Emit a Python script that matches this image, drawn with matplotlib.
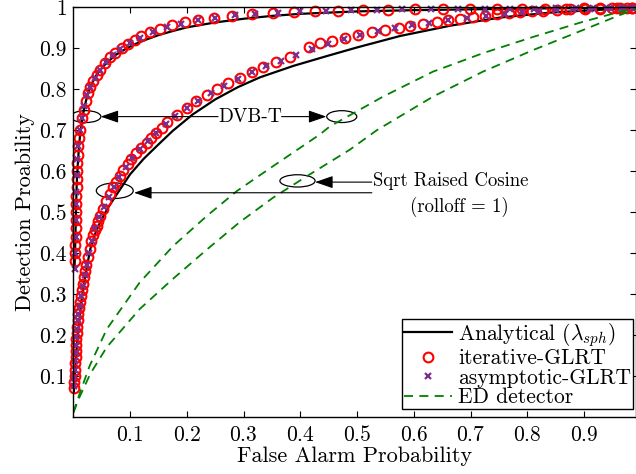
import numpy as np
import matplotlib
matplotlib.use("Agg")
import matplotlib.pyplot as plt
from matplotlib.patches import Ellipse

plt.rcParams["font.family"] = ["cmr10", "DejaVu Serif"]
plt.rcParams["mathtext.fontset"] = "cm"
plt.rcParams["axes.formatter.use_mathtext"] = True

# ---- Analytical (black lines) ----
dvb_ana_x = [0.002, 0.003, 0.004, 0.005, 0.006, 0.008, 0.010, 0.012, 0.015, 0.018, 0.022,
             0.026, 0.030, 0.035, 0.041, 0.047, 0.055, 0.065, 0.075, 0.088, 0.100, 0.115,
             0.130, 0.150, 0.175, 0.200, 0.250, 0.300, 0.350, 0.400, 0.450, 0.500, 0.600,
             0.700, 0.800, 0.900, 0.990]
dvb_ana_y = [0.36, 0.40, 0.46, 0.52, 0.57, 0.62, 0.66, 0.69, 0.72, 0.745, 0.77,
             0.79, 0.805, 0.82, 0.835, 0.846, 0.859, 0.872, 0.884, 0.895, 0.904, 0.914,
             0.922, 0.932, 0.942, 0.951, 0.963, 0.972, 0.979, 0.984, 0.987, 0.990, 0.993,
             0.995, 0.997, 0.998, 0.999]

src_ana_x = [0.001, 0.002, 0.004, 0.006, 0.008, 0.011, 0.014, 0.018, 0.023, 0.030,
             0.038, 0.047, 0.060, 0.076, 0.100, 0.124, 0.150, 0.175, 0.210, 0.250,
             0.290, 0.329, 0.388, 0.447, 0.500, 0.576, 0.664, 0.752, 0.840, 0.928, 0.990]
src_ana_y = [0.06, 0.09, 0.13, 0.17, 0.20, 0.24, 0.28, 0.32, 0.36, 0.41,
             0.445, 0.474, 0.508, 0.542, 0.592, 0.630, 0.665, 0.698, 0.738, 0.775,
             0.805, 0.829, 0.857, 0.881, 0.902, 0.930, 0.955, 0.975, 0.987, 0.994, 0.997]

# ---- iterative-GLRT (red circles) ----
dvb_it_x = [0.003, 0.003, 0.003, 0.004, 0.004, 0.004, 0.005, 0.005, 0.005, 0.006,
            0.006, 0.007, 0.007, 0.008, 0.009, 0.010, 0.012, 0.015, 0.018, 0.022,
            0.026, 0.030, 0.035, 0.041, 0.047, 0.056, 0.065, 0.073, 0.085, 0.097,
            0.109, 0.120, 0.135, 0.153, 0.173, 0.197, 0.220, 0.247, 0.279, 0.314,
            0.352, 0.388, 0.426, 0.467, 0.511, 0.555, 0.602, 0.652, 0.699, 0.746,
            0.790, 0.831, 0.869, 0.899, 0.928, 0.958, 0.985]
dvb_it_y = [0.38, 0.40, 0.42, 0.44, 0.46, 0.48, 0.50, 0.52, 0.54, 0.56,
            0.58, 0.60, 0.62, 0.64, 0.66, 0.68, 0.70, 0.73, 0.75, 0.77,
            0.79, 0.805, 0.82, 0.835, 0.848, 0.864, 0.878, 0.889, 0.901, 0.911,
            0.921, 0.930, 0.939, 0.948, 0.956, 0.964, 0.969, 0.975, 0.979, 0.983,
            0.986, 0.988, 0.990, 0.992, 0.993, 0.994, 0.995, 0.995, 0.996, 0.996,
            0.997, 0.997, 0.997, 0.998, 0.998, 0.998, 0.998]

src_it_x = [0.002, 0.002, 0.003, 0.003, 0.003, 0.004, 0.004, 0.005, 0.005, 0.006,
            0.007, 0.008, 0.009, 0.010, 0.011, 0.013, 0.015, 0.017, 0.019, 0.021,
            0.023, 0.026, 0.029, 0.032, 0.035, 0.038, 0.041, 0.044, 0.047, 0.052,
            0.058, 0.064, 0.070, 0.076, 0.082, 0.088, 0.096, 0.102, 0.111, 0.120,
            0.129, 0.137, 0.146, 0.156, 0.165, 0.182, 0.200, 0.217, 0.235, 0.253,
            0.273, 0.294, 0.314, 0.335, 0.358, 0.382, 0.415, 0.435, 0.455, 0.479,
            0.502, 0.526, 0.549, 0.573, 0.593, 0.617, 0.640, 0.661, 0.681, 0.705,
            0.725, 0.746, 0.767, 0.787, 0.808, 0.828, 0.852, 0.875, 0.902, 0.928,
            0.949, 0.963, 0.975, 0.984]
src_it_y = [0.07, 0.085, 0.10, 0.115, 0.13, 0.145, 0.16, 0.175, 0.19, 0.205,
            0.22, 0.235, 0.25, 0.265, 0.28, 0.295, 0.31, 0.325, 0.34, 0.355,
            0.37, 0.39, 0.41, 0.428, 0.443, 0.456, 0.467, 0.479, 0.49, 0.508,
            0.527, 0.544, 0.56, 0.574, 0.589, 0.602, 0.618, 0.630, 0.643, 0.656,
            0.668, 0.680, 0.692, 0.705, 0.720, 0.737, 0.754, 0.770, 0.785, 0.800,
            0.815, 0.828, 0.841, 0.853, 0.866, 0.879, 0.902, 0.912, 0.918, 0.925,
            0.932, 0.940, 0.945, 0.950, 0.955, 0.960, 0.965, 0.968, 0.972, 0.976,
            0.979, 0.983, 0.986, 0.988, 0.990, 0.992, 0.994, 0.995, 0.996, 0.997,
            0.998, 0.998, 0.999, 0.999]

# ---- asymptotic-GLRT (purple crosses) ----
dvb_as_x = [0.003, 0.003, 0.004, 0.004, 0.005, 0.005, 0.006, 0.007, 0.008, 0.011,
            0.015, 0.019, 0.024, 0.030, 0.038, 0.047, 0.058, 0.070, 0.083, 0.100,
            0.118, 0.140, 0.165, 0.190, 0.220, 0.250, 0.285, 0.320, 0.360, 0.400,
            0.445, 0.490, 0.535, 0.580, 0.630, 0.678, 0.725, 0.770, 0.812, 0.850,
            0.885, 0.915, 0.945, 0.970, 0.990]
dvb_as_y = [0.36, 0.40, 0.44, 0.48, 0.52, 0.55, 0.59, 0.63, 0.66, 0.70,
            0.73, 0.76, 0.785, 0.805, 0.828, 0.846, 0.866, 0.883, 0.898, 0.912,
            0.926, 0.939, 0.951, 0.960, 0.968, 0.975, 0.980, 0.984, 0.987, 0.990,
            0.992, 0.993, 0.994, 0.995, 0.996, 0.996, 0.997, 0.997, 0.997, 0.998,
            0.998, 0.998, 0.998, 0.998, 0.999]

src_as_x = [0.002, 0.002, 0.003, 0.003, 0.004, 0.005, 0.005, 0.006, 0.008, 0.009,
            0.011, 0.014, 0.017, 0.020, 0.024, 0.028, 0.033, 0.039, 0.046, 0.054,
            0.062, 0.071, 0.081, 0.092, 0.104, 0.117, 0.131, 0.146, 0.163, 0.180,
            0.200, 0.220, 0.242, 0.265, 0.290, 0.315, 0.340, 0.366, 0.393, 0.420,
            0.448, 0.477, 0.506, 0.536, 0.566, 0.596, 0.627, 0.660, 0.693, 0.727,
            0.760, 0.790, 0.820, 0.850, 0.880, 0.910, 0.940, 0.965, 0.985]
src_as_y = [0.075, 0.095, 0.115, 0.135, 0.155, 0.175, 0.195, 0.215, 0.235, 0.25,
            0.27, 0.295, 0.32, 0.345, 0.37, 0.40, 0.43, 0.46, 0.487, 0.513,
            0.537, 0.56, 0.585, 0.609, 0.632, 0.653, 0.673, 0.692, 0.715, 0.735,
            0.754, 0.772, 0.790, 0.808, 0.826, 0.842, 0.856, 0.870, 0.884, 0.898,
            0.910, 0.922, 0.933, 0.942, 0.949, 0.956, 0.962, 0.968, 0.974, 0.979,
            0.984, 0.988, 0.991, 0.994, 0.995, 0.997, 0.998, 0.998, 0.999]

# ---- ED detector (green dashed) ----
ed1_x = [0.0, 0.012, 0.029, 0.059, 0.117, 0.176, 0.235, 0.288, 0.352, 0.434,
         0.452, 0.546, 0.634, 0.722, 0.811, 0.899, 0.963, 0.990]
ed1_y = [0.01, 0.06, 0.125, 0.214, 0.328, 0.417, 0.49, 0.551, 0.612, 0.689,
         0.709, 0.782, 0.843, 0.888, 0.928, 0.965, 0.989, 0.997]
ed2_x = [0.0, 0.010, 0.030, 0.059, 0.117, 0.175, 0.235, 0.293, 0.352, 0.411,
         0.487, 0.535, 0.634, 0.722, 0.811, 0.899, 0.963, 0.990]
ed2_y = [0.01, 0.045, 0.105, 0.17, 0.263, 0.336, 0.408, 0.475, 0.535, 0.587,
         0.652, 0.700, 0.782, 0.843, 0.896, 0.945, 0.981, 0.995]

xticks = [0.1, 0.2, 0.3, 0.4, 0.5, 0.6, 0.7, 0.8, 0.9]
yticks = [0.1, 0.2, 0.3, 0.4, 0.5, 0.6, 0.7, 0.8, 0.9, 1.0]
ytick_labels = ["0.1", "0.2", "0.3", "0.4", "0.5", "0.6", "0.7", "0.8", "0.9", "1"]

purple = "#7E2F8E"
green = "#008000"

fig = plt.figure(figsize=(6.36, 4.74), dpi=100)
ax = fig.add_axes([0.1153, 0.1209, 0.8847, 0.8637])

ax.plot(dvb_ana_x, dvb_ana_y, color="k", lw=1.6, label=r"Analytical ($\lambda_{sph}$)")
ax.plot(src_ana_x, src_ana_y, color="k", lw=1.6, label="_nolegend_")
ax.plot(dvb_it_x, dvb_it_y, "o", mfc="none", mec="red", ms=7, mew=1.5,
        clip_on=False, label="iterative-GLRT")
ax.plot(src_it_x, src_it_y, "o", mfc="none", mec="red", ms=7, mew=1.5,
        clip_on=False, label="_nolegend_")
ax.plot(dvb_as_x, dvb_as_y, "x", color=purple, ms=4.5, mew=1.6,
        clip_on=False, label="asymptotic-GLRT")
ax.plot(src_as_x, src_as_y, "x", color=purple, ms=4.5, mew=1.6,
        clip_on=False, label="_nolegend_")
ax.plot(ed1_x, ed1_y, "--", color=green, lw=1.3, dashes=(5, 3.5), label="ED detector")
ax.plot(ed2_x, ed2_y, "--", color=green, lw=1.3, dashes=(5, 3.5), label="_nolegend_")

# annotations
for cx, cy, w, h in [(0.022, 0.733, 0.053, 0.029), (0.473, 0.733, 0.053, 0.029),
                     (0.073, 0.552, 0.065, 0.038), (0.395, 0.576, 0.062, 0.030)]:
    ax.add_patch(Ellipse((cx, cy), w, h, fill=False, ec="k", lw=0.9))

arrow = dict(arrowstyle="-|>,head_length=1.1,head_width=0.38", color="k", lw=0.8,
             shrinkA=0, shrinkB=0)
ax.text(0.311, 0.733, "DVB-T", ha="center", va="center", fontsize=14)
ax.annotate("", xy=(0.048, 0.733), xytext=(0.255, 0.733), arrowprops=arrow)
ax.annotate("", xy=(0.446, 0.733), xytext=(0.367, 0.733), arrowprops=arrow)
ax.annotate("", xy=(0.107, 0.547), xytext=(0.526, 0.547), arrowprops=arrow)
ax.annotate("", xy=(0.426, 0.573), xytext=(0.526, 0.573), arrowprops=arrow)
ax.text(0.528, 0.576, "Sqrt Raised Cosine", ha="left", va="center", fontsize=13.5)
ax.text(0.681, 0.513, "(rolloff = 1)", ha="center", va="center", fontsize=13.5)

ax.set_xlim(0, 0.9915)
ax.set_ylim(0, 1)
ax.set_xticks(xticks)
ax.set_yticks(yticks)
ax.set_yticklabels(ytick_labels)
ax.tick_params(direction="in", top=True, right=True, length=4, width=0.8,
               labelsize=15.5)
ax.tick_params(axis="x", pad=6)
ax.tick_params(axis="y", pad=5)
for sp in ax.spines.values():
    sp.set_linewidth(1.0)

ax.set_xlabel("False Alarm Probability", fontsize=16, labelpad=1)
ax.set_ylabel("Detection Proability", fontsize=16, labelpad=3)

leg = ax.legend(loc="lower right", bbox_to_anchor=(0.995, 0.018), borderaxespad=0,
                fontsize=15.5, fancybox=False, framealpha=1, edgecolor="k",
                handlelength=2.2, handletextpad=0.3, labelspacing=0.0,
                borderpad=0.1)
leg.get_frame().set_linewidth(1.0)

fig.savefig("out.png", dpi=100)
